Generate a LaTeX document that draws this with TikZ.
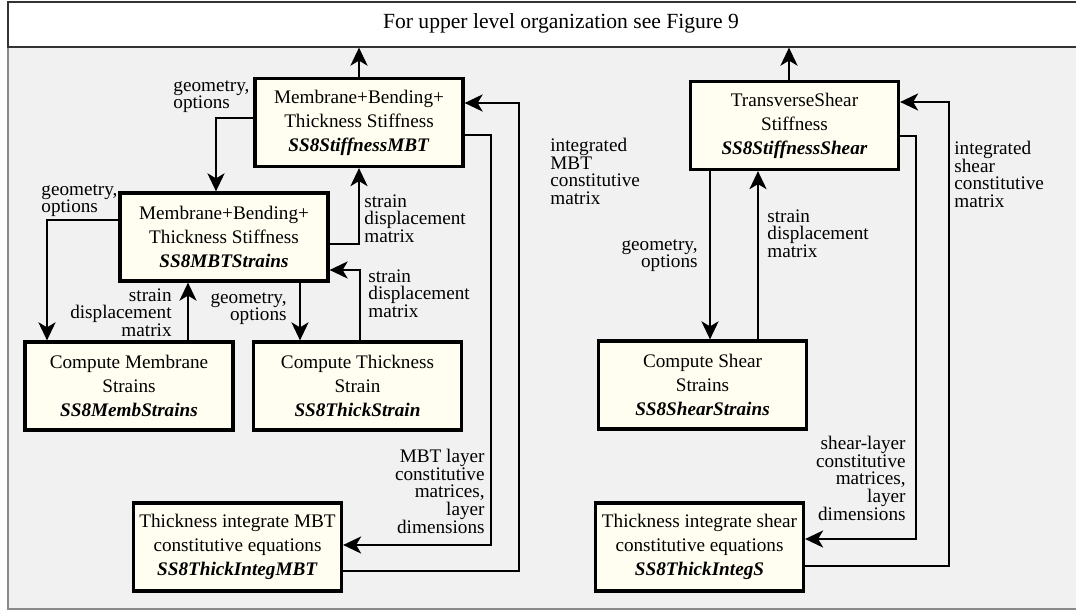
\documentclass[tikz,border=0pt]{standalone}
\usepackage{fontspec}
\setmainfont{Liberation Serif}
\usetikzlibrary{arrows.meta,positioning}
\definecolor{boxfill}{HTML}{FFFEF0}
\definecolor{panelgray}{HTML}{F1F1F1}
\definecolor{framegray}{HTML}{8A8A8A}

\tikzset{
  routine/.style={draw, line width=1.6pt, fill=boxfill, align=center,
    minimum width=104pt, minimum height=44pt, inner sep=0pt,
    font=\fontsize{9.6}{12}\selectfont},
  flow/.style={line width=1.35pt, -{Stealth[length=9pt,width=8.5pt,inset=2.5pt]}},
  lbl/.style={inner sep=0pt, font=\fontsize{9.6}{8.8}\selectfont},
}

\begin{document}
\begin{tikzpicture}[x=0.5pt,y=-0.5pt]
  \useasboundingbox (0,0) rectangle (1076,611);

  % Panel and banner
  \fill[panelgray] (8,46) rectangle (1076,608);
  \draw[framegray,line width=1pt] (8,46) -- (8,608.5) -- (1076,608.5);
  \node[draw=black!80,fill=white,line width=0.8pt,minimum width=536.5pt,
    minimum height=22.5pt,inner sep=0pt,anchor=north west] (banner) at (7,1) {};
  \node[font=\fontsize{10.8}{13}\selectfont] (title) at (561,23.5)
    {For upper level organization see Figure 9};

  % MBT branch
  \node[routine] (mbt) at (359,122.5)
    {Membrane+Bending+\\Thickness Stiffness\\\textbf{\textit{SS8StiffnessMBT}}};
  \node[routine] (mbtstr) at (224,237)
    {Membrane+Bending+\\Thickness Stiffness\\\textbf{\textit{SS8MBTStrains}}};
  \node[routine] (memb) at (129,386)
    {Compute Membrane\\Strains\\\textbf{\textit{SS8MembStrains}}};
  \node[routine] (thick) at (357.5,386)
    {Compute Thickness\\Strain\\\textbf{\textit{SS8ThickStrain}}};
  \node[routine] (integmbt) at (237.5,547)
    {Thickness integrate MBT\\constitutive equations\\\textbf{\textit{SS8ThickIntegMBT}}};

  % Shear branch
  \node[routine] (shear) at (794.5,125.5)
    {TransverseShear\\Stiffness\\\textbf{\textit{SS8StiffnessShear}}};
  \node[routine] (shstr) at (702.5,385)
    {Compute Shear\\Strains\\\textbf{\textit{SS8ShearStrains}}};
  \node[routine] (integs) at (699.5,547)
    {Thickness integrate shear\\constitutive equations\\\textbf{\textit{SS8ThickIntegS}}};

  % Connectors, MBT side
  \draw[flow] (mbt.north) -- (mbt.north |- banner.south);
  \draw[flow] (mbt.west |- 0,118) -| (mbtstr.north -| 216,0);
  \draw[flow] (mbtstr.east |- 0,244) -| (mbt.south);
  \draw[flow] (mbt.east |- 0,135) -| (491,545) -- (integmbt.east |- 0,545);
  \draw[flow] (integmbt.east |- 0,571) -| (519,103) -- (mbt.east |- 0,103);
  \draw[flow] (mbtstr.west |- 0,220) -| (memb.north -| 47,0);
  \draw[flow] (memb.north -| 188,0) -- (mbtstr.south -| 188,0);
  \draw[flow] (mbtstr.south -| 300,0) -- (thick.north -| 300,0);
  \draw[flow] (thick.north -| 360,0) |- (mbtstr.east |- 0,270);

  % Connectors, shear side
  \draw[flow] (shear.north -| 789,0) -- (banner.south -| 789,0);
  \draw[flow] (shear.south -| 710,0) -- (shstr.north -| 710,0);
  \draw[flow] (shstr.north -| 758,0) -- (shear.south -| 758,0);
  \draw[flow] (shear.east |- 0,136) -| (916,539) -- (integs.east |- 0,539);
  \draw[flow] (integs.east |- 0,566) -| (949,102) -- (shear.east |- 0,102);

  % Labels
  \node[lbl,align=left,anchor=north west] (l1) at (173,80) {geometry,\\options};
  \node[lbl,align=left,anchor=north west] (l2) at (41,184) {geometry,\\options};
  \node[lbl,align=left,anchor=north west] (l3) at (364,194) {strain\\displacement\\matrix};
  \node[lbl,align=right,anchor=north east] (l4) at (172,288) {strain\\displacement\\matrix};
  \node[lbl,align=right,anchor=north east] (l5) at (287,292) {geometry,\\options};
  \node[lbl,align=left,anchor=north west] (l6) at (368,269) {strain\\displacement\\matrix};
  \node[lbl,align=left,anchor=north west] (l7) at (550,138) {integrated\\MBT\\constitutive\\matrix};
  \node[lbl,align=right,anchor=north east] (l8) at (485,449) {MBT layer\\constitutive\\matrices,\\layer\\dimensions};
  \node[lbl,align=right,anchor=north east] (l9) at (698,239) {geometry,\\options};
  \node[lbl,align=left,anchor=north west] (l10) at (767,209) {strain\\displacement\\matrix};
  \node[lbl,align=left,anchor=north west] (l11) at (954,141) {integrated\\shear\\constitutive\\matrix};
  \node[lbl,align=right,anchor=north east] (l12) at (906,436) {shear-layer\\constitutive\\matrices,\\layer\\dimensions};
\end{tikzpicture}
\end{document}
